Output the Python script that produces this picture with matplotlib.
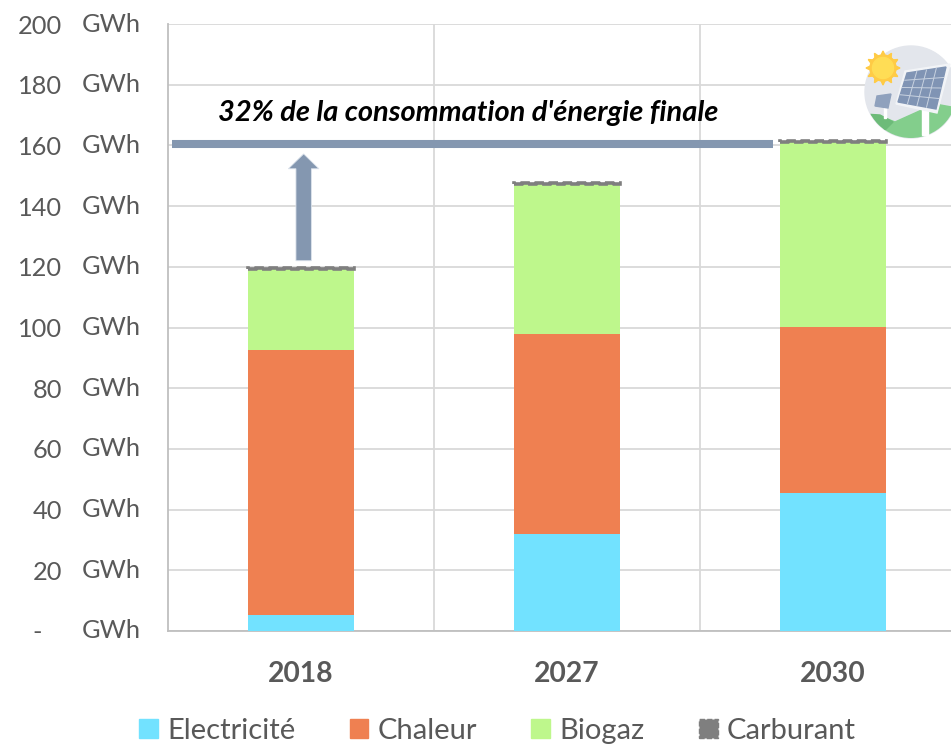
import matplotlib
matplotlib.use("Agg")
import matplotlib.pyplot as plt
from matplotlib.patches import Circle, Patch, Polygon
import numpy as np

plt.rcParams['font.family'] = ['Lato', 'DejaVu Sans']

years = ['2018', '2027', '2030']
electricite = [5.2, 32.0, 45.5]
chaleur = [87.4, 65.8, 54.7]
biogaz = [26.6, 49.5, 60.9]
carburant = [0.4, 0.4, 0.4]
yticks = list(range(0, 201, 20))
ytick_labels = ['-   '] + [str(v) for v in yticks[1:]]
target = 160.5
target_label = "32% de la consommation d'énergie finale"

GREY_TEXT = '#595959'
GRID = '#D9D9D9'
ARROW = '#8497B0'

W, H = 951, 744
fig = plt.figure(figsize=(W / 100, H / 100), dpi=100)
ax = fig.add_axes([168 / W, 1 - 631 / H, (W - 168) / W, 607 / H])
ax.set_xlim(-0.5, -0.5 + (W - 168) / 266)
ax.set_ylim(0, 200)

# stacked columns
x = np.arange(len(years))
bottom = np.zeros(len(years))
bw = 0.4
ax.bar(x, electricite, bw, color='#72E2FF', zorder=3)
bottom += electricite
ax.bar(x, chaleur, bw, bottom=bottom, color='#EF8051', zorder=3)
bottom += chaleur
ax.bar(x, biogaz, bw, bottom=bottom, color='#BEF78C', zorder=3)
bottom += biogaz
ax.bar(x, carburant, bw, bottom=bottom, facecolor='#7F7F7F', edgecolor='#7F7F7F',
       linewidth=2.6, linestyle=(0, (2.6, 1.3)), zorder=4)

# grid and axes
ax.set_yticks(yticks)
ax.set_yticklabels(ytick_labels, fontsize=18.3, color=GREY_TEXT)
ax.tick_params(axis='y', length=0, pad=76)
ax.grid(axis='y', color=GRID, linewidth=1.3, zorder=0)
for v in [0.5, 1.5]:
    ax.axvline(v, color=GRID, linewidth=1.3, zorder=0)
ax.set_xticks(x)
ax.set_xticklabels(years, fontsize=20.3, fontweight='bold', color=GREY_TEXT)
ax.tick_params(axis='x', length=0, pad=21.5)
for side in ['top', 'right']:
    ax.spines[side].set_visible(False)
ax.spines['left'].set_color('#BFBFBF')
ax.spines['left'].set_linewidth(1.3)
ax.spines['bottom'].set_color('#BFBFBF')
ax.spines['bottom'].set_linewidth(1.3)

# unit column next to the values
for v in yticks:
    ax.annotate('GWh', (0, v), xycoords=('axes fraction', 'data'), xytext=(-86 * 0.72, 0),
                textcoords='offset points', fontsize=18.3, color=GREY_TEXT,
                ha='left', va='center', annotation_clip=False)

# target line and arrow
ax.plot([-0.485, 1.775], [target, target], color=ARROW, linewidth=5.8,
        solid_capstyle='butt', zorder=5)
ax.arrow(0.01, 122, 0, target - 3.3 - 122, width=0.058, head_width=0.115, head_length=4.9,
         length_includes_head=True, facecolor=ARROW, edgecolor='#DCE3EC', linewidth=0.6, zorder=5)
ax.text(0.628, 170.7, target_label, fontsize=20.9, fontweight='bold', style='italic',
        color='black', ha='center', va='center', zorder=6)

handles = [Patch(color='#72E2FF'), Patch(color='#EF8051'), Patch(color='#BEF78C'),
           Patch(facecolor='#7F7F7F', edgecolor='#7F7F7F', linestyle='--')]
fig.legend(handles, ['Electricité', 'Chaleur', 'Biogaz', 'Carburant'], ncols=4,
           loc='lower left', bbox_to_anchor=(139 / W, 0), frameon=False,
           fontsize=21, labelcolor=GREY_TEXT, handlelength=0.65, handleheight=0.62,
           handletextpad=0.31, columnspacing=1.86, borderpad=0, borderaxespad=0)

# solar panel icon, drawn in pixel space
icon = fig.add_axes([0, 0, 1, 1], zorder=10)
icon.set_xlim(0, W)
icon.set_ylim(H, 0)
icon.axis('off')
disc = Circle((911, 92), 46, color='#E3E6EC')
icon.add_patch(disc)
hill = Polygon([(864, 114), (880, 116), (895, 122), (915, 113), (935, 104), (957, 108),
                (957, 140), (864, 140)], color='#83CE8C')
icon.add_patch(hill)
hill.set_clip_path(disc)
dark = Polygon([(864, 114), (880, 115), (893, 122), (885, 130), (870, 130)], color='#6DBB79')
icon.add_patch(dark)
dark.set_clip_path(disc)
icon.add_patch(Polygon([(922, 108), (928, 108), (928, 135), (922, 135)], color='white'))
icon.add_patch(Polygon([(884, 106), (886, 106), (886, 118), (884, 118)], color='white'))
for a in np.arange(0, 360, 30):
    t = np.deg2rad(a)
    tip = (883 + 17 * np.cos(t), 68 + 17 * np.sin(t))
    b1 = (883 + 12 * np.cos(t + 0.2), 68 + 12 * np.sin(t + 0.2))
    b2 = (883 + 12 * np.cos(t - 0.2), 68 + 12 * np.sin(t - 0.2))
    icon.add_patch(Polygon([tip, b1, b2], color='#FFCB45'))
icon.add_patch(Circle((883, 68), 13, color='#FFCB45'))
icon.add_patch(Circle((883, 68), 10.5, color='#FFDD55'))
icon.add_patch(Polygon([(905, 71), (950, 64), (937, 113), (896, 104)], color='#F2F4F7'))
icon.add_patch(Polygon([(907, 73), (946, 67), (936, 109), (898, 102)], color='#8094B4'))
for f in [0.25, 0.5, 0.75]:
    icon.plot([907 - 9 * f, 946 - 10 * f], [73 + 29 * f, 67 + 42 * f], color='#C8D2E0', linewidth=0.7)
    icon.plot([907 + 39 * f, 898 + 38 * f], [73 - 6 * f, 102 + 7 * f], color='#C8D2E0', linewidth=0.7)
icon.add_patch(Polygon([(877, 96), (891, 94), (888, 108), (875, 106)], color='#8FA1BD'))

fig.savefig('out.png', dpi=100)
